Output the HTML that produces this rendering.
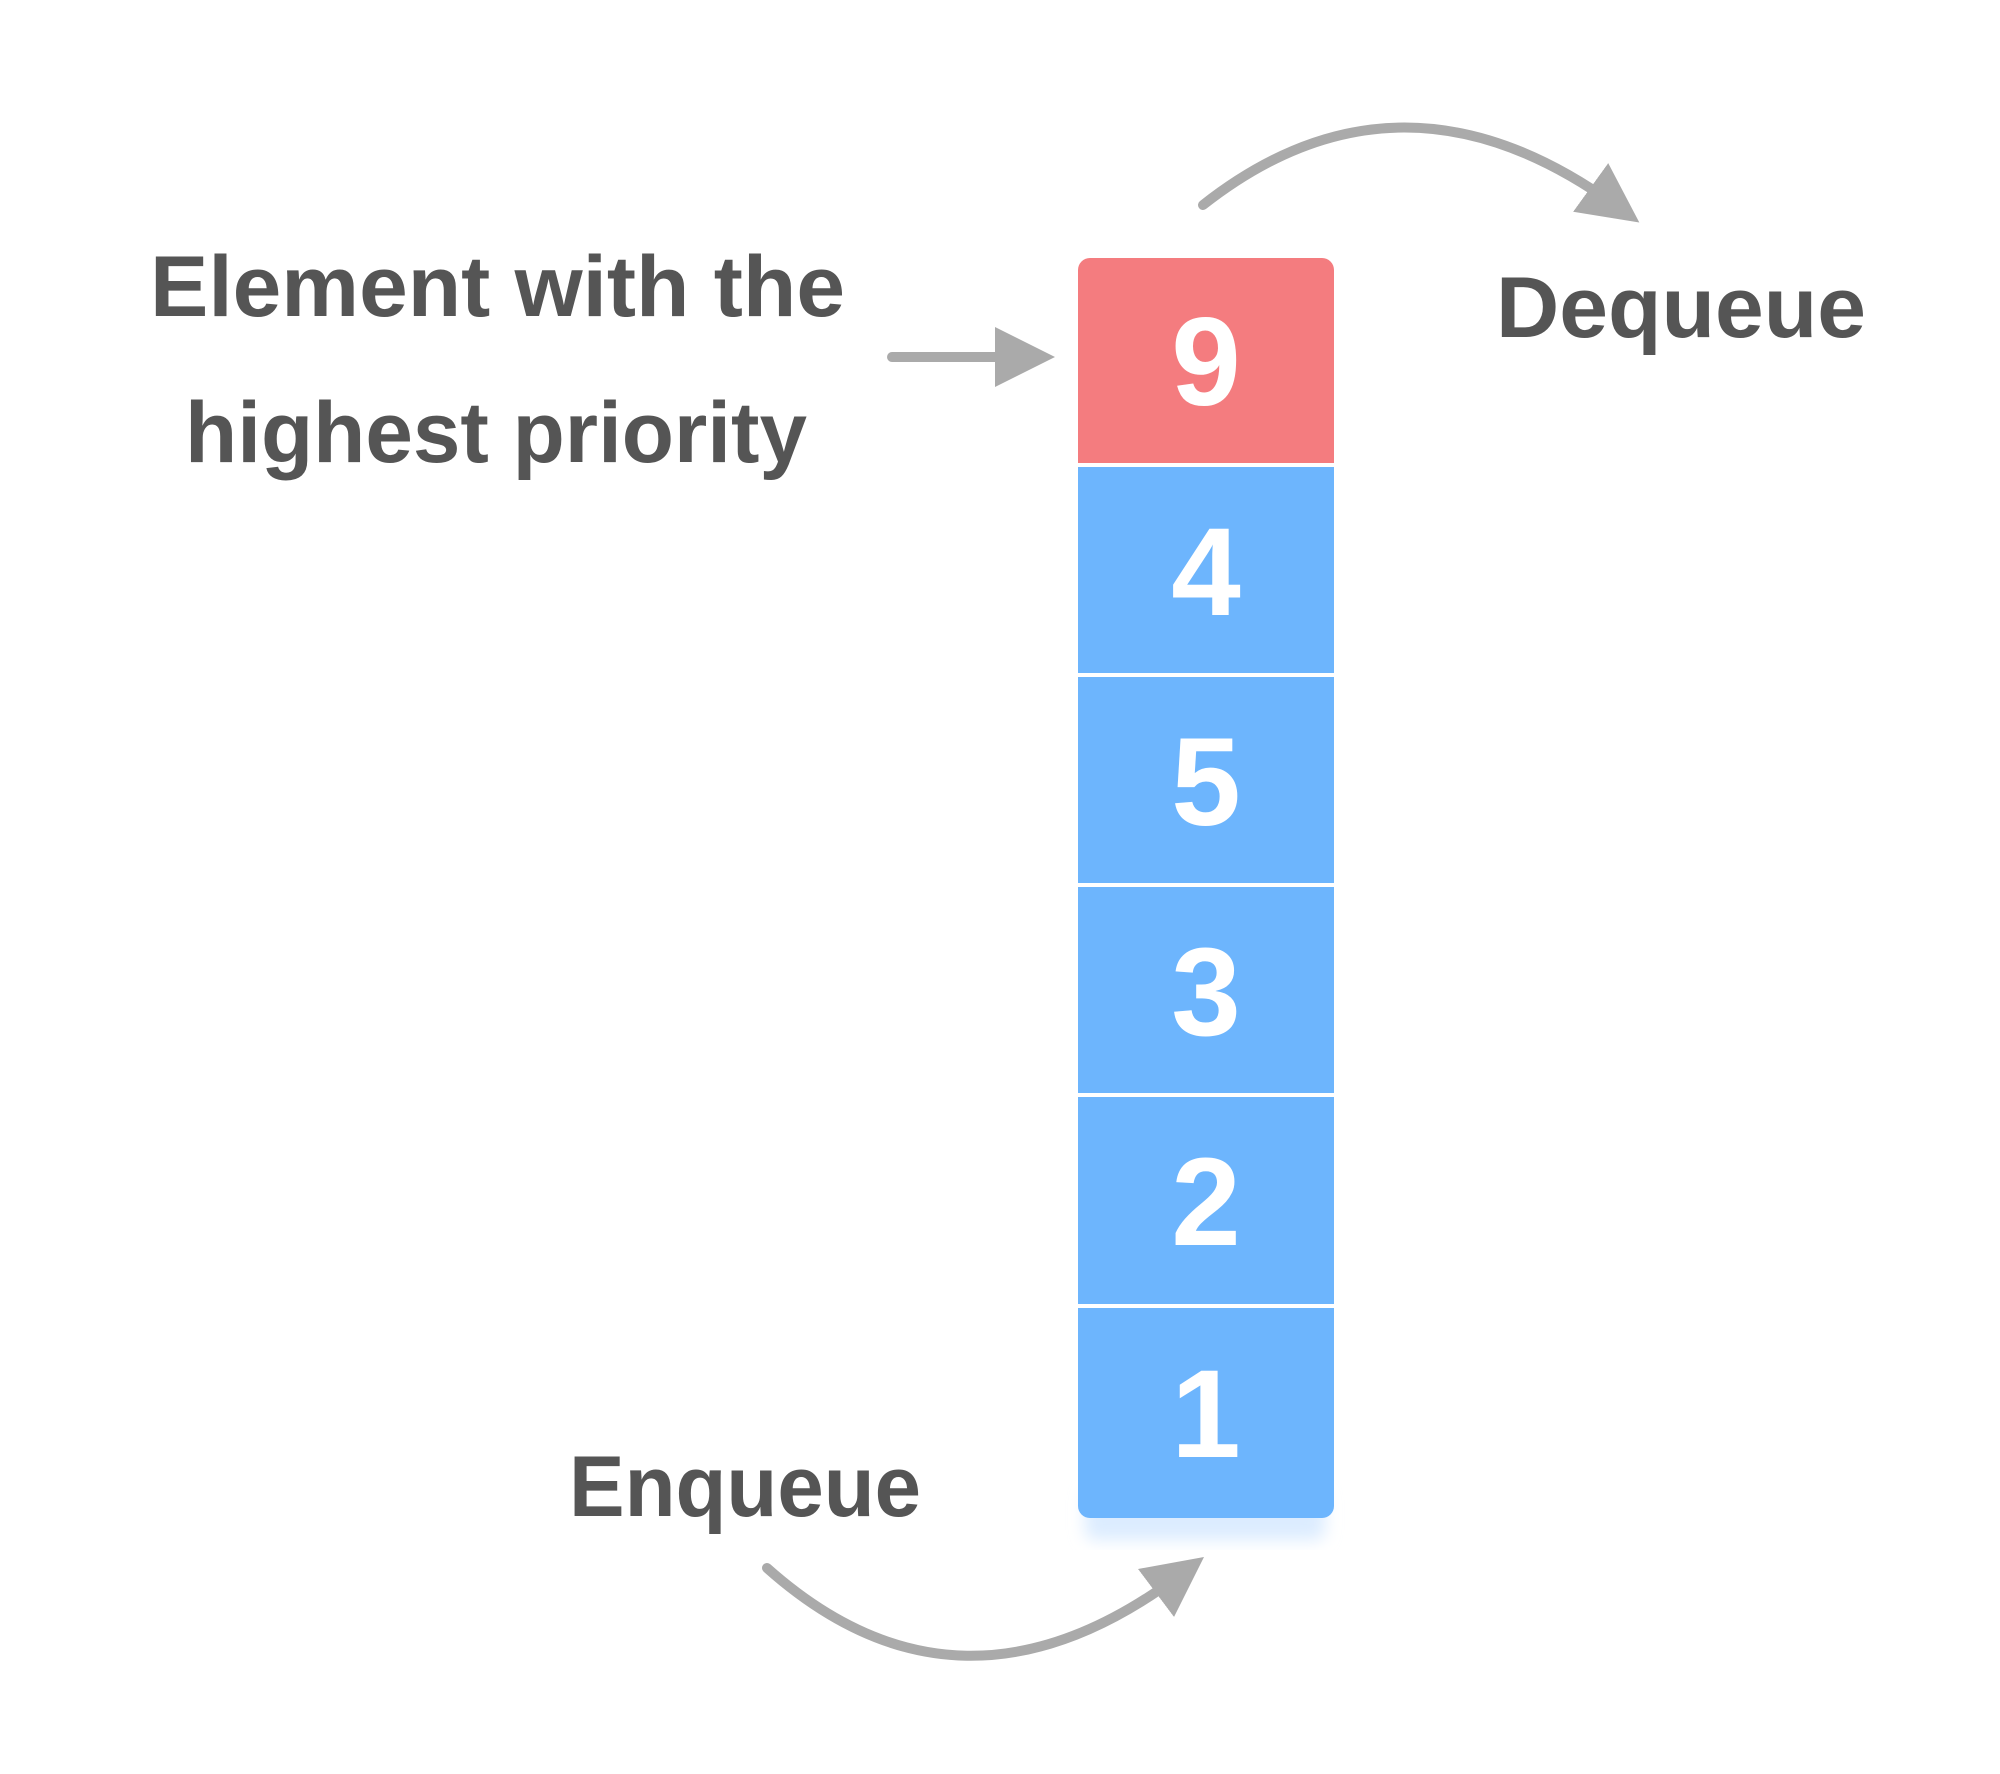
<!DOCTYPE html>
<html><head><meta charset="utf-8"><style>
html,body{margin:0;padding:0;background:#fff;}
svg{display:block;}
text{font-family:"Liberation Sans",sans-serif;font-weight:bold;}
</style></head><body>
<svg width="2000" height="1774" viewBox="0 0 2000 1774">
<defs>
<marker id="ah" markerWidth="6" markerHeight="6" refX="3" refY="3" orient="auto" markerUnits="strokeWidth">
<path d="M0,0 L6,3 L0,6 z" fill="#aaaaaa"/>
</marker>
<filter id="sh" x="-20%" y="-20%" width="140%" height="140%"><feGaussianBlur stdDeviation="8"/></filter>
</defs>
<rect x="1085" y="1490" width="240" height="50" rx="10" fill="#dcecff" filter="url(#sh)"/>
<g>
<path d="M1090,258 h232 a12,12 0 0 1 12,12 v193 h-256 v-193 a12,12 0 0 1 12,-12z" fill="#f47c7f"/>
<rect x="1078" y="467" width="256" height="206" fill="#6db5fd"/>
<rect x="1078" y="677" width="256" height="206" fill="#6db5fd"/>
<rect x="1078" y="887" width="256" height="206" fill="#6db5fd"/>
<rect x="1078" y="1097" width="256" height="207" fill="#6db5fd"/>
<path d="M1078,1308 h256 v198 a12,12 0 0 1 -12,12 h-232 a12,12 0 0 1 -12,-12z" fill="#6db5fd"/>
</g>
<g fill="#ffffff" font-size="125" text-anchor="middle">
<text x="1206" y="405">9</text>
<text x="1206" y="615">4</text>
<text x="1206" y="825">5</text>
<text x="1206" y="1035">3</text>
<text x="1206" y="1245">2</text>
<text x="1206" y="1457">1</text>
</g>
<g fill="#555555" font-size="86">
<text x="150" y="316" textLength="695" lengthAdjust="spacingAndGlyphs">Element with the</text>
<text x="185" y="462" textLength="622" lengthAdjust="spacingAndGlyphs">highest priority</text>
<text x="1496" y="337" textLength="370" lengthAdjust="spacingAndGlyphs">Dequeue</text>
<text x="569" y="1516" textLength="352" lengthAdjust="spacingAndGlyphs">Enqueue</text>
</g>
<g stroke="#aaaaaa" stroke-width="10" fill="none" stroke-linecap="round">
<path d="M892,357 L1025,357" marker-end="url(#ah)"/>
<path d="M1203,205 Q1400,50 1615,205" marker-end="url(#ah)"/>
<path d="M767,1568 Q960,1740 1180,1575" marker-end="url(#ah)"/>
</g>
</svg>
</body></html>
